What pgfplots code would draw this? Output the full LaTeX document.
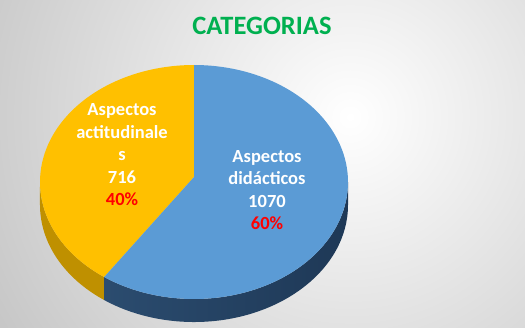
\documentclass[border=0pt]{standalone}
\usepackage{pgfplots}
\pgfplotsset{compat=1.18}
\usepackage{pgfplotstable}
\usepackage{fontspec}
\setmainfont{Carlito}
\definecolor{pieorange}{HTML}{FFC000}
\definecolor{pieblue}{HTML}{5B9BD5}
\definecolor{sideorange}{HTML}{BF9000}
\definecolor{sideblue}{HTML}{2B4C6F}
\definecolor{sidebluedark}{HTML}{1E3856}
\definecolor{titlegreen}{HTML}{00B050}
\definecolor{bggray}{HTML}{BEBEBE}
\pgfplotstableread{
cat value
actitudinales 716
didacticos 1070
}\piedata
\begin{document}
\begin{tikzpicture}
\pgfplotstablegetelem{0}{value}\of\piedata \let\va\pgfplotsretval
\pgfplotstablegetelem{1}{value}\of\piedata \let\vb\pgfplotsretval
\pgfmathsetmacro{\frac}{\va/(\va+\vb)}
\pgfmathsetmacro{\angsplit}{90+360*\frac}
\begin{axis}[x=1pt, y=1pt, xmin=0, xmax=525, ymin=0, ymax=327,
  scale only axis, hide axis, clip=false]
% background
\begin{scope}
\clip (axis cs:0,0) rectangle (axis cs:525,327);
\shade[inner color=white, outer color=bggray] (axis cs:350,210) circle (470pt);
\end{scope}
% sides
\addplot[fill=sideorange, draw=none, domain=180:\angsplit, samples=60]
  ({194+154*cos(x)},{145+117*sin(x)}) -- ++(0,-23pt)
  arc[start angle=\angsplit, end angle=180, x radius=154pt, y radius=117pt] -- cycle;
\addplot[left color=sideblue, right color=sidebluedark, draw=none, domain=\angsplit:360, samples=100]
  ({194+154*cos(x)},{145+117*sin(x)}) -- ++(0,-23pt)
  arc[start angle=360, end angle=\angsplit, x radius=154pt, y radius=117pt] -- cycle;
% top faces
\addplot[fill=pieorange, draw=none, domain=90:\angsplit, samples=100]
  ({194+154*cos(x)},{145+117*sin(x)}) -- (axis cs:194,150) -- cycle;
\addplot[fill=pieblue, draw=none, domain=\angsplit:450, samples=150]
  ({194+154*cos(x)},{145+117*sin(x)}) -- (axis cs:194,150) -- cycle;
% labels
\node[align=center, font=\bfseries\fontsize{18.5}{22.5}\selectfont, text=white]
  at (axis cs:122,172) {Aspectos\\actitudinale\\s\\716\\\textcolor{red}{40\%}};
\node[align=center, font=\bfseries\fontsize{18.5}{22.5}\selectfont, text=white]
  at (axis cs:267,137) {Aspectos\\didácticos\\1070\\\textcolor{red}{60\%}};
\node[font=\bfseries\fontsize{26.5}{30}\selectfont, text=titlegreen]
  at (axis cs:262,301) {CATEGORIAS};
\end{axis}
\end{tikzpicture}
\end{document}
